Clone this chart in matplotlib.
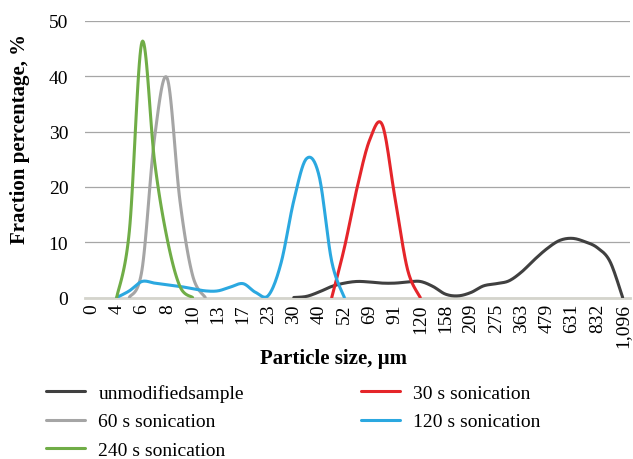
import numpy as np
import matplotlib
matplotlib.use("Agg")
import matplotlib.pyplot as plt

# particle size classes, the values are read at every half class
size_labels = ["0", "4", "6", "8", "10", "13", "17", "23", "30", "40", "52", "69",
               "91", "120", "158", "209", "275", "363", "479", "631", "832", "1,096"]
N = None
unmodified = [N] * 16 + [0, 0.2, 1.0, 2.0, 2.6, 2.9, 2.8, 2.6, 2.6, 2.8, 2.9, 2.0, 0.6,
                         0.3, 0.9, 2.1, 2.5, 3.0, 4.6, 6.8, 8.8, 10.3, 10.7, 10.1, 9.0, 6.5, 0]
son_30 = [N] * 19 + [0, 9, 19.8, 28.5, 31.2, 18, 5, 0] + [N] * 16
son_60 = [N] * 3 + [0, 5, 29, 39.6, 17.5, 4, 0] + [N] * 33
son_120 = [N] * 2 + [0, 1.2, 2.9, 2.6, 2.3, 2.0, 1.6, 1.2, 1.2, 1.9, 2.5, 0.9, 0.4, 6.3,
                     17.5, 25.1, 22, 6.5, 0] + [N] * 22
son_240 = [N] * 2 + [0, 12, 46.2, 24.5, 10.5, 2, 0] + [N] * 34

series = [
    ("unmodifiedsample", unmodified, "#404040"),
    ("30 s sonication", son_30, "#e5252a"),
    ("60 s sonication", son_60, "#a5a5a5"),
    ("120 s sonication", son_120, "#2ba8e0"),
    ("240 s sonication", son_240, "#70ad47"),
]


def smooth(x, y, n=20):
    # excel style smoothed line (catmull-rom through the points)
    x = np.asarray(x, float)
    y = np.asarray(y, float)
    px = np.concatenate([[x[0]], x, [x[-1]]])
    py = np.concatenate([[y[0]], y, [y[-1]]])
    t = np.linspace(0, 1, n)[:, None]
    xs, ys = [], []
    for i in range(len(x) - 1):
        p0, p1, p2, p3 = [np.array([px[j], py[j]]) for j in range(i, i + 4)]
        c1 = p1 + (p2 - p0) / 6
        c2 = p2 - (p3 - p1) / 6
        pts = ((1 - t) ** 3) * p1 + 3 * ((1 - t) ** 2) * t * c1 + 3 * (1 - t) * t ** 2 * c2 + t ** 3 * p2
        xs.append(pts[:, 0])
        ys.append(pts[:, 1])
    return np.concatenate(xs), np.concatenate(ys)


plt.rcParams["font.family"] = ["Liberation Serif", "DejaVu Serif"]

fig = plt.figure(figsize=(6.33, 4.6), dpi=100)
ax = fig.add_axes([85 / 633, 1 - 298.5 / 460, 545 / 633, 276.5 / 460])

xh = np.arange(len(unmodified)) / 2
lines = {}
for name, vals, col in series:
    v = np.array([np.nan if a is None else a for a in vals], float)
    ok = ~np.isnan(v)
    sx, sy = smooth(xh[ok], v[ok])
    lines[name], = ax.plot(sx, sy, color=col, lw=2.2, label=name, solid_capstyle="round", zorder=3)

ax.set_ylim(0, 50)
ax.set_xlim(-0.253, 21.29)
ax.set_yticks(range(0, 51, 10))
ax.set_xticks(range(len(size_labels)))
ax.set_xticklabels(size_labels, rotation=90)
ax.tick_params(axis="y", length=0, pad=12, labelsize=14)
ax.tick_params(axis="x", length=0, pad=4, labelsize=14)
ax.grid(axis="y", color="#a6a6a6", lw=0.9)
ax.set_axisbelow(True)
for s in ["top", "right", "left"]:
    ax.spines[s].set_visible(False)
ax.spines["bottom"].set_color("#d4d4cc")
ax.spines["bottom"].set_linewidth(2)

fig.text(20 / 633, 1 - 139 / 460, "Fraction percentage, %", rotation=90, ha="center", va="center",
         fontsize=15, fontweight="bold")
fig.text(333 / 633, 1 - 359 / 460, "Particle size, µm", ha="center", va="center",
         fontsize=15, fontweight="bold")

order = ["unmodifiedsample", "60 s sonication", "240 s sonication", "30 s sonication", "120 s sonication"]
fig.legend([lines[k] for k in order], order, ncol=2, loc="upper left",
           bbox_to_anchor=(46 / 633, 1 - 385 / 460), frameon=False, fontsize=14,
           handlelength=2.0, handletextpad=0.7, columnspacing=6.0, labelspacing=0.56,
           borderpad=0, borderaxespad=0)

fig.savefig("out.png", dpi=100)
